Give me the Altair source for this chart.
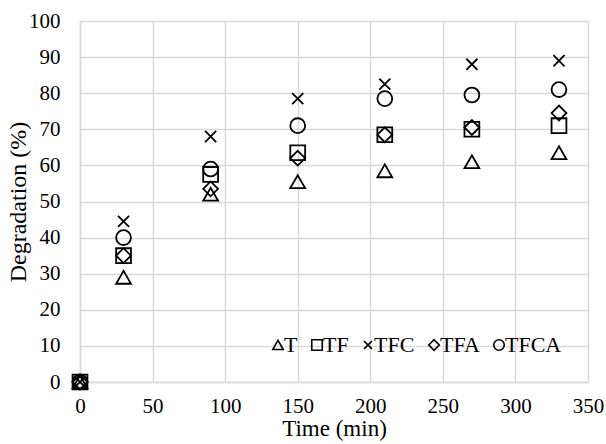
import altair as alt
import pandas as pd

times = [0, 30, 90, 150, 210, 270, 330]
series_names = ["T", "TF", "TFC", "TFA", "TFCA"]
T = [0, 29, 52, 55.5, 58.5, 61, 63.5]
TF = [0, 35, 57.5, 63.5, 68.5, 70, 71]
TFC = [0, 44.5, 68, 78.5, 82.5, 88, 89]
TFA = [0, 35, 53.5, 62, 68.5, 70.5, 74.5]
TFCA = [0, 40, 59, 71, 78.5, 79.5, 81]

values = {"T": T, "TF": TF, "TFC": TFC, "TFA": TFA, "TFCA": TFCA}
rows = []
for s in series_names:
    for t, v in zip(times, values[s]):
        rows.append({"Time": t, "Degradation": v, "Series": s})
df = pd.DataFrame(rows)

x_path = "M-0.75,-0.75L0.75,0.75M-0.75,0.75L0.75,-0.75"
shapes = ["triangle-up", "square", x_path, "diamond", "circle"]

font = "Liberation Serif"

chart = alt.Chart(df).mark_point(
    filled=False, stroke="black", strokeWidth=1.8, size=220, opacity=1
).encode(
    x=alt.X("Time:Q", scale=alt.Scale(domain=[0, 350], nice=False),
            axis=alt.Axis(values=[0, 50, 100, 150, 200, 250, 300, 350],
                          title="Time (min)", ticks=False, labelPadding=13,
                          labelFlush=False, titlePadding=1, titleFontSize=23)),
    y=alt.Y("Degradation:Q", scale=alt.Scale(domain=[0, 100], nice=False),
            axis=alt.Axis(values=list(range(0, 101, 10)), title="Degradation (%)",
                          ticks=False, labelPadding=20, titlePadding=-2,
                          titleFontSize=24)),
    shape=alt.Shape("Series:N", scale=alt.Scale(domain=series_names, range=shapes),
                    legend=alt.Legend(orient="none", legendX=187, legendY=313,
                                      direction="horizontal", columns=5, title=None,
                                      symbolSize=110, symbolStrokeWidth=1.6,
                                      symbolStrokeColor="black",
                                      labelOffset=alt.ExprRef(expr="-5"),
                                      columnPadding=8, symbolType="circle")),
    order=alt.Order("Series:N"),
).properties(
    width=508, height=361,
    autosize=alt.AutoSizeParams(type="none"),
    padding={"left": 80, "top": 21, "right": 18, "bottom": 62},
).configure_axis(
    labelFont=font, titleFont=font, labelFontSize=21,
    labelColor="black", titleColor="black", titleFontWeight="normal",
    gridColor="#d9d9d9", gridWidth=1.5, domainColor="#d9d9d9", domainWidth=1.5,
).configure_legend(
    labelFont=font, labelFontSize=22, labelColor="black",
).configure_view(stroke=None)

chart.save("out.html", embed_options={"renderer": "svg", "actions": False})
